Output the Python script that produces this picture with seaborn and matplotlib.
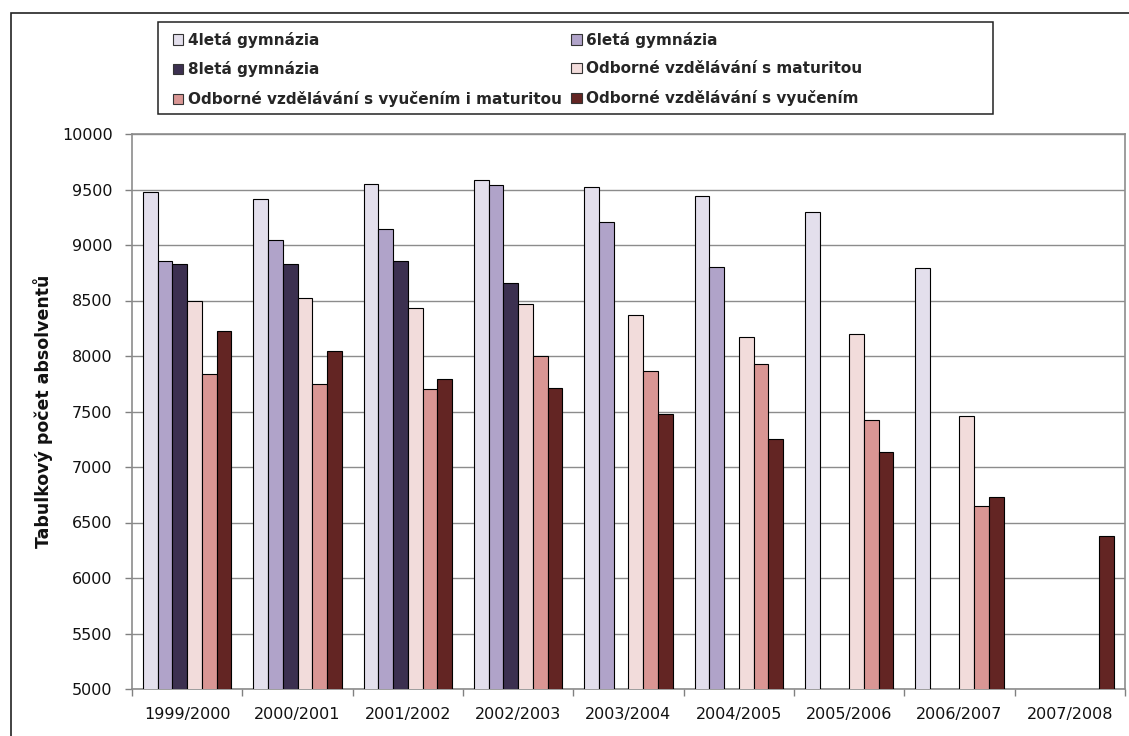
import numpy as np
import pandas as pd
import seaborn as sns
import matplotlib.pyplot as plt
from matplotlib.patches import Rectangle, Patch

years = ["1999/2000", "2000/2001", "2001/2002", "2002/2003", "2003/2004",
         "2004/2005", "2005/2006", "2006/2007", "2007/2008"]

types = ["4letá gymnázia", "6letá gymnázia", "8letá gymnázia",
         "Odborné vzdělávání s maturitou",
         "Odborné vzdělávání s vyučením i maturitou",
         "Odborné vzdělávání s vyučením"]

nan = np.nan
gym4 = [9480, 9410, 9550, 9590, 9525, 9440, 9300, 8795, nan]
gym6 = [8855, 9045, 9145, 9540, 9210, 8805, nan, nan, nan]
gym8 = [8830, 8830, 8855, 8660, nan, nan, nan, nan, nan]
odb_mat = [8500, 8525, 8435, 8470, 8370, 8175, 8200, 7460, nan]
odb_vyuc_mat = [7835, 7750, 7705, 8000, 7865, 7925, 7420, 6645, nan]
odb_vyuc = [8225, 8045, 7790, 7715, 7475, 7250, 7135, 6730, 6375]

colors = ["#E3DFEC", "#B0A3C9", "#3C3050", "#F2DCDB", "#D99694", "#632523"]

series = [gym4, gym6, gym8, odb_mat, odb_vyuc_mat, odb_vyuc]
df = pd.DataFrame({
    "rok": np.repeat([years], len(types), axis=0).ravel(),
    "typ": np.repeat(types, len(years)),
    "pocet": np.concatenate(series),
}).dropna()

sns.set_theme(style="white")
plt.rcParams["font.family"] = ["DejaVu Sans"]

fig = plt.figure(figsize=(11.29, 7.36), dpi=100)
ax = fig.add_axes([132 / 1129, 1 - 689 / 736, (1125 - 132) / 1129, (689 - 134) / 736])

sns.barplot(data=df, x="rok", y="pocet", hue="typ", order=years,
            hue_order=types, palette=colors, width=0.8, edgecolor="black",
            linewidth=0.8, saturation=1, legend=False, ax=ax, zorder=3)

ax.set_ylim(5000, 10000)
ax.set_xlim(-0.5, len(years) - 0.5)
ax.set_yticks(np.arange(5000, 10001, 500))
ax.yaxis.grid(True, color="#8c8c8c", linewidth=1, zorder=0)
ax.xaxis.grid(False)
ax.set_axisbelow(True)

for sp in ax.spines.values():
    sp.set_visible(True)
    sp.set_color("#8c8c8c")
    sp.set_linewidth(1.2)

# category boundaries carry the x tick marks
ax.set_xticks(np.arange(-0.5, len(years), 1.0), minor=True)
ax.tick_params(axis="x", which="minor", length=5, width=1, color="#808080",
               direction="out", bottom=True)
ax.tick_params(axis="x", which="major", length=0, pad=13, labelsize=11.5,
               labelcolor="#111111")
ax.tick_params(axis="y", which="major", length=5, width=1, color="#808080",
               direction="out", left=True, pad=9, labelsize=11.5,
               labelcolor="#111111")

ax.set_xlabel("")
ax.set_ylabel("Tabulkový počet absolventů", fontsize=12.5, fontweight="bold",
              color="#111111")
ax.yaxis.set_label_coords(-0.080, 0.5)

# outer chart frame
fig.patches.append(Rectangle((10.5 / 1129, -0.1), 1.2, 1 - 13 / 736 + 0.1,
                             transform=fig.transFigure, fill=False,
                             edgecolor="#222222", linewidth=1.2))

# legend box
lx0, ly0, lx1, ly1 = 158, 22, 993, 114
fig.patches.append(Rectangle((lx0 / 1129, 1 - ly1 / 736),
                             (lx1 - lx0) / 1129, (ly1 - ly0) / 736,
                             transform=fig.transFigure, fill=True,
                             facecolor="white", edgecolor="#222222",
                             linewidth=1.1))

handles = [Patch(facecolor=c, edgecolor="#333333", linewidth=0.8) for c in colors]
order = [0, 2, 4, 1, 3, 5]
fig.legend([handles[i] for i in order], [types[i] for i in order],
           ncol=2, loc="upper left",
           bbox_to_anchor=(162 / 1129, 1 - 21 / 736),
           frameon=False, handlelength=0.7, handleheight=0.7,
           handletextpad=0.3, columnspacing=0.6, labelspacing=0.9,
           borderpad=0.2, prop={"weight": "bold", "size": 11})

fig.savefig("out.png", dpi=100)
